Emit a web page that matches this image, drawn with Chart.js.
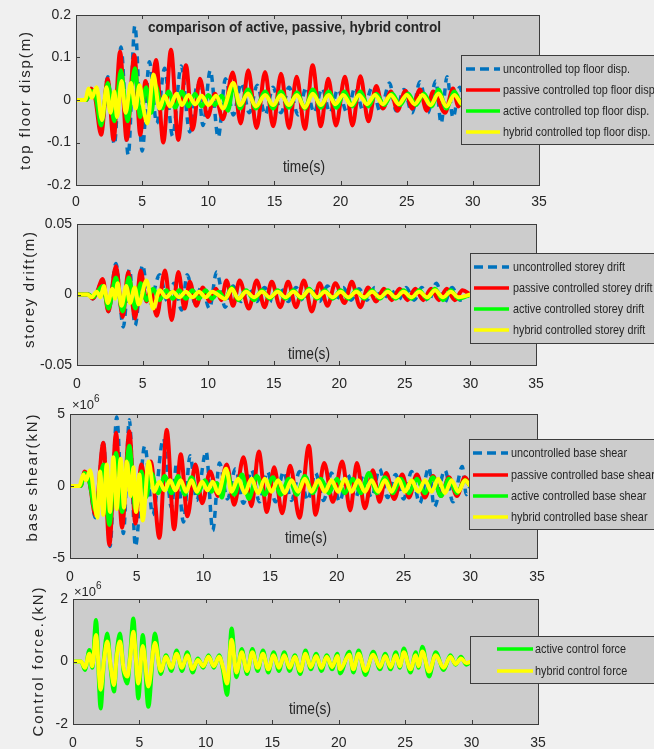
<!DOCTYPE html>
<html>
<head>
<meta charset="utf-8">
<script src="https://cdn.jsdelivr.net/npm/chart.js@4.4.1/dist/chart.umd.min.js"></script>
<style>
  body { margin: 0; background: #f0f0f0; width: 654px; height: 749px; overflow: hidden; position: relative; }
  .panel { position: absolute; left: 0; width: 654px; }
</style>
</head>
<body>
<div class="panel" style="top:0px;height:215px"><canvas id="c1" width="654" height="215"></canvas></div>
<div class="panel" style="top:205px;height:195px"><canvas id="c2" width="654" height="195"></canvas></div>
<div class="panel" style="top:390px;height:200px"><canvas id="c3" width="654" height="200"></canvas></div>
<div class="panel" style="top:575px;height:174px"><canvas id="c4" width="654" height="174"></canvas></div>
<script>
// --- data: [time (s), value] at the visible peaks / troughs ---

// top floor displacement (m)
const uncontrolledTop = [[0,0],[0.8,0],[1.1,0.025],[1.5,0.002],[1.9,-0.075],[2.4,0.055],[2.9,-0.105],[3.4,0.125],[3.95,-0.13],[4.45,0.175],[5.0,-0.12],[5.55,0.09],[6.1,-0.055],[6.7,0.075],[7.3,-0.085],[7.95,0.08],[8.6,-0.075],[9.2,0.04],[9.6,-0.06],[10.15,0.07],[10.75,-0.088],[11.3,0.05],[11.9,-0.035],[12.5,0.04],[13.1,-0.03],[13.7,0.035],[14.3,-0.035],[14.9,0.03],[15.5,-0.03],[16.1,0.03],[16.8,-0.035],[17.4,0.03],[18.0,-0.03],[18.6,0.028],[19.2,-0.03],[19.8,0.025],[20.5,-0.03],[21.1,0.03],[21.7,-0.025],[22.4,0.03],[23.0,-0.028],[23.7,0.04],[24.2,-0.025],[24.8,0.025],[25.4,-0.03],[26.0,0.043],[26.6,-0.03],[27.2,0.045],[27.6,-0.055],[28.05,0.055],[28.5,-0.042],[29.0,0.03],[29.5,-0.02],[30,0]];
const passiveTop = [[0,0],[0.8,0],[1.13,0.027],[1.45,0.005],[1.9,-0.082],[2.39,0.05],[2.84,-0.094],[3.33,0.114],[3.83,-0.094],[4.41,0.106],[4.86,-0.082],[5.25,0.045],[5.6,-0.005],[6.05,0.094],[6.6,-0.1],[7.18,0.118],[7.73,-0.094],[8.31,0.082],[8.82,-0.07],[9.37,0.05],[9.95,-0.04],[10.5,0.015],[11.1,-0.045],[11.85,0.065],[12.45,-0.055],[13.02,0.07],[13.65,-0.066],[14.29,0.066],[14.9,-0.062],[15.5,0.062],[16.1,-0.066],[16.68,0.055],[17.3,-0.068],[17.89,0.082],[18.5,-0.062],[19.07,0.05],[19.65,-0.06],[20.33,0.055],[20.9,-0.06],[21.5,0.056],[22.1,-0.05],[22.7,0.033],[23.2,-0.02],[23.8,0.02],[24.3,-0.025],[24.9,0.022],[25.4,-0.02],[26.0,0.025],[26.5,-0.025],[27.0,0.02],[27.9,-0.03],[28.5,0.027],[28.9,-0.015],[29.4,0.01],[30,0]];
const activeTop = [[0,0],[0.8,0],[1.1,0.022],[1.5,0.005],[1.9,-0.06],[2.4,0.04],[2.9,-0.05],[3.4,0.07],[3.9,-0.05],[4.45,0.075],[4.85,-0.04],[5.3,0.03],[5.7,-0.03],[6.0,0.035],[6.5,-0.02],[7.0,0.02],[7.5,-0.018],[8.0,0.02],[8.5,-0.015],[9.0,0.015],[9.5,-0.015],[10.0,0.012],[10.5,-0.012],[11.0,0.01],[11.5,-0.025],[11.9,0.035],[12.4,-0.02],[13.0,0.025],[13.6,-0.02],[14.3,0.02],[14.9,-0.02],[15.5,0.02],[16.1,-0.018],[16.7,0.018],[17.3,-0.02],[17.9,0.025],[18.5,-0.018],[19.1,0.02],[19.7,-0.018],[20.3,0.02],[20.9,-0.015],[21.5,0.02],[22.1,-0.015],[22.7,0.015],[23.3,-0.012],[23.9,0.015],[24.5,-0.012],[25.1,0.015],[25.7,-0.012],[26.3,0.015],[26.9,-0.015],[27.4,0.025],[28.0,-0.02],[28.6,0.02],[29.2,-0.012],[30,0]];
const hybridTop = [[0,0],[0.7,0],[0.95,0.027],[1.2,0.005],[1.55,0.03],[1.97,-0.047],[2.3,0.03],[2.6,-0.03],[2.9,0.02],[3.1,-0.04],[3.45,0.045],[3.75,-0.03],[4.15,0.04],[4.5,-0.02],[4.8,0.035],[5.1,-0.02],[5.4,-0.055],[5.85,0.06],[6.3,-0.02],[6.7,0.01],[7.1,-0.015],[7.6,0.015],[8.0,-0.012],[8.5,0.012],[9.0,-0.01],[9.5,0.01],[10.0,-0.012],[10.6,0.01],[11.1,-0.02],[11.9,0.04],[12.4,-0.012],[13.0,0.015],[13.6,-0.015],[14.3,0.012],[14.9,-0.012],[15.5,0.012],[16.1,-0.012],[16.7,0.012],[17.3,-0.018],[17.9,0.015],[18.5,-0.012],[19.1,0.012],[19.6,-0.01],[20.2,0.012],[20.8,-0.012],[21.4,0.012],[22.0,-0.01],[22.6,0.012],[23.2,-0.01],[23.8,0.012],[24.4,-0.01],[25.0,0.012],[25.6,-0.01],[26.2,0.012],[26.8,-0.012],[27.4,0.015],[28.0,-0.015],[28.6,0.012],[29.2,-0.01],[30,0]];

// storey drift (m)
const uncontrolledDrift = [[0,0],[0.9,0],[1.2,-0.003],[1.5,0.001],[1.96,0.01],[2.4,-0.012],[2.97,0.022],[3.53,-0.023],[4.0,0.018],[4.43,-0.022],[5.0,0.021],[5.5,-0.008],[6.3,0.014],[6.9,-0.005],[7.4,0.008],[7.98,-0.011],[8.4,0.014],[9.0,-0.006],[9.5,0.006],[10.1,-0.01],[10.65,0.016],[11.3,-0.009],[11.9,0.006],[12.5,-0.005],[13.1,0.005],[13.7,-0.005],[14.3,0.005],[14.9,-0.005],[15.5,0.005],[16.1,-0.005],[16.7,0.005],[17.3,-0.005],[17.9,0.004],[18.5,-0.005],[19.1,0.006],[19.7,-0.005],[20.3,0.005],[20.9,-0.004],[21.5,0.004],[22.1,-0.004],[22.7,0.005],[23.3,-0.004],[23.9,0.004],[24.5,-0.004],[25.1,0.005],[25.7,-0.004],[26.3,0.005],[26.8,-0.005],[27.4,0.008],[28.0,-0.006],[28.6,0.005],[29.2,-0.004],[30,0]];
const passiveDrift = [[0,0],[0.9,0],[1.2,-0.003],[1.5,0.001],[1.96,0.011],[2.39,-0.012],[2.97,0.02],[3.48,-0.016],[3.91,0.016],[4.43,-0.017],[4.85,0.017],[5.3,-0.005],[5.6,0.003],[6.08,-0.015],[6.71,0.017],[7.22,-0.018],[7.73,0.016],[8.2,-0.01],[8.6,0.009],[9.1,-0.008],[9.6,0.005],[10.1,-0.005],[10.6,0.004],[11.0,-0.004],[11.4,0.01],[11.9,-0.008],[12.4,0.01],[13.1,-0.01],[13.7,0.01],[14.3,-0.009],[14.85,0.009],[15.5,-0.009],[16.1,0.009],[16.7,-0.009],[17.3,0.01],[17.9,-0.012],[18.5,0.008],[19.1,-0.008],[19.7,0.008],[20.4,-0.006],[20.95,0.009],[21.6,-0.009],[22.2,0.005],[22.8,-0.005],[23.4,0.004],[24.0,-0.004],[24.6,0.004],[25.2,-0.004],[25.8,0.004],[26.4,-0.004],[27.0,0.004],[27.6,-0.004],[28.2,0.004],[28.8,-0.004],[29.4,0.003],[30,0]];
const activeDrift = [[0,0],[0.9,0],[1.2,-0.002],[1.5,0.001],[1.96,0.006],[2.4,-0.01],[2.97,0.012],[3.48,-0.012],[3.95,0.012],[4.45,-0.01],[4.85,0.008],[5.3,-0.004],[5.8,0.004],[6.3,-0.004],[6.8,0.003],[7.3,-0.003],[7.8,0.003],[8.3,-0.003],[8.8,0.003],[9.3,-0.003],[9.8,0.003],[10.3,-0.003],[10.8,0.002],[11.3,-0.003],[11.8,0.005],[12.3,-0.004],[12.9,0.003],[13.5,-0.004],[14.1,0.003],[14.7,-0.003],[15.3,0.003],[15.9,-0.003],[16.5,0.003],[17.1,-0.003],[17.7,0.004],[18.3,-0.003],[18.9,0.003],[19.5,-0.003],[20.1,0.003],[20.7,-0.003],[21.3,0.003],[21.9,-0.003],[22.5,0.003],[23.1,-0.003],[23.7,0.003],[24.3,-0.003],[24.9,0.003],[25.5,-0.003],[26.1,0.003],[26.7,-0.003],[27.3,0.004],[27.9,-0.004],[28.5,0.003],[29.1,-0.003],[30,0]];
const hybridDrift = [[0,0],[0.8,0],[1.1,-0.002],[1.5,0.002],[1.8,-0.002],[2.05,0.006],[2.35,-0.006],[2.7,0.004],[2.9,-0.003],[3.1,0.008],[3.4,-0.008],[3.75,0.006],[4.05,-0.006],[4.4,0.005],[4.7,-0.007],[5.3,0.01],[5.8,-0.01],[6.3,0.003],[6.8,-0.002],[7.3,0.002],[7.8,-0.002],[8.3,0.002],[8.8,-0.002],[9.3,0.002],[9.8,-0.002],[10.3,0.002],[11.3,-0.003],[11.8,0.004],[12.3,-0.003],[12.9,0.002],[13.5,-0.002],[14.1,0.002],[14.7,-0.002],[15.3,0.002],[15.9,-0.002],[16.5,0.002],[17.1,-0.002],[17.7,0.003],[18.3,-0.002],[18.9,0.002],[19.5,-0.002],[20.1,0.002],[20.7,-0.002],[21.3,0.002],[21.9,-0.002],[22.5,0.002],[23.1,-0.002],[23.7,0.002],[24.3,-0.002],[24.9,0.002],[25.5,-0.002],[26.1,0.002],[26.7,-0.002],[27.3,0.003],[27.9,-0.002],[28.5,0.002],[29.1,-0.002],[30,0]];

// base shear (x 10^6 kN)
const uncontrolledShear = [[0,0],[0.8,0],[1.1,0.9],[1.45,0.3],[1.9,-2.2],[2.5,3.0],[3.0,-4.2],[3.5,4.8],[4.0,-3.3],[4.45,4.6],[4.9,-4.2],[5.6,2.8],[6.2,-2.0],[7.0,3.3],[7.6,-1.5],[8.0,1.6],[8.5,-2.5],[9.0,2.1],[9.5,-1.0],[10.2,2.4],[10.7,-3.1],[11.2,1.6],[11.8,-0.9],[12.4,1.2],[13.0,-1.2],[13.6,1.1],[14.2,-1.1],[14.8,1.0],[15.4,-1.1],[16.0,1.0],[16.6,-1.0],[17.2,1.0],[17.8,-1.0],[18.4,0.9],[19.0,-1.0],[19.6,0.9],[20.2,-1.1],[20.8,0.8],[21.4,-0.8],[22.0,0.8],[22.6,-0.8],[23.2,1.2],[23.8,-0.8],[24.4,0.8],[25.0,-0.9],[25.6,1.0],[26.2,-1.2],[26.9,1.3],[27.3,-1.45],[28.1,1.1],[28.7,-1.1],[29.4,1.35],[29.7,-0.6],[30,0]];
const passiveShear = [[0,0],[0.8,0],[1.1,1.0],[1.45,0.3],[1.9,-2.0],[2.5,3.0],[2.95,-4.1],[3.45,3.7],[3.9,-2.9],[4.45,3.8],[4.9,-2.6],[5.35,1.5],[5.65,0.2],[6.05,1.7],[6.7,-3.6],[7.25,3.9],[7.8,-3.0],[8.3,2.2],[8.8,-2.1],[9.4,1.5],[9.9,-1.2],[10.5,1.0],[11.1,-0.7],[11.75,1.5],[12.3,-1.3],[13.0,2.0],[13.6,-1.4],[14.15,2.4],[14.75,-1.8],[15.3,1.3],[15.9,-1.9],[16.5,1.4],[17.2,-2.2],[17.9,2.8],[18.4,-2.0],[19.05,1.6],[19.7,-1.1],[20.4,1.7],[21.0,-1.7],[21.5,1.6],[22.1,-1.55],[22.7,1.1],[23.2,-1.1],[23.7,0.9],[24.3,-0.9],[24.9,0.8],[25.4,-0.8],[26.0,0.8],[26.6,-0.8],[27.2,0.7],[27.8,-0.7],[28.4,0.6],[29.0,-0.7],[29.6,0.6],[30,0]];
const activeShear = [[0,0],[0.8,0],[1.1,0.9],[1.45,0.3],[1.9,-1.7],[2.5,1.5],[2.95,-2.7],[3.45,2.3],[3.9,-1.8],[4.45,2.8],[4.9,-1.6],[5.35,1.0],[5.7,-0.8],[6.1,0.9],[6.6,-0.5],[7.1,0.7],[7.6,-0.5],[8.1,0.7],[8.6,-0.6],[9.1,0.6],[9.6,-0.5],[10.1,0.4],[10.6,-0.4],[11.0,0.2],[11.4,-0.8],[11.75,1.0],[12.3,-0.6],[12.9,0.8],[13.4,-0.9],[14.0,0.7],[14.6,-0.6],[15.2,0.6],[15.8,-0.6],[16.4,0.5],[17.0,-0.6],[17.6,0.7],[18.2,-0.5],[18.8,0.5],[19.4,-0.5],[20.0,0.5],[20.6,-0.5],[21.2,0.5],[21.8,-0.5],[22.4,0.9],[23.0,-0.5],[23.6,0.6],[24.2,-0.5],[24.8,0.5],[25.4,-0.5],[26.0,0.5],[26.6,-0.5],[27.2,0.6],[27.8,-0.7],[28.4,0.5],[29.0,-0.5],[29.6,0.4],[30,0]];
const hybridShear = [[0,0],[0.7,0],[1.0,0.8],[1.2,0.4],[1.5,1.1],[2.05,-2.2],[2.25,1.0],[2.5,-2.0],[2.75,1.5],[3.0,-1.8],[3.25,2.0],[3.5,-1.6],[3.8,1.9],[4.05,-1.5],[4.25,1.7],[4.55,-0.7],[4.75,1.3],[4.95,-1.8],[5.2,0.8],[5.45,-2.4],[5.9,1.7],[6.3,-0.4],[6.7,0.3],[7.1,-0.3],[7.5,0.4],[7.9,-0.3],[8.3,0.4],[8.7,-0.4],[9.1,0.4],[9.5,-0.4],[9.9,0.3],[10.3,-0.3],[10.7,0.3],[11.1,-0.5],[11.7,1.2],[12.1,-0.4],[12.6,0.5],[13.1,-0.5],[13.6,0.5],[14.1,-0.5],[14.6,0.5],[15.1,-0.4],[15.6,0.4],[16.1,-0.5],[16.6,0.4],[17.1,-0.4],[17.6,0.5],[18.1,-0.4],[18.6,0.4],[19.1,-0.4],[19.6,0.4],[20.1,-0.4],[20.6,0.5],[21.1,-0.4],[21.6,0.4],[22.1,-0.4],[22.6,0.4],[23.1,-0.4],[23.6,0.4],[24.1,-0.4],[24.6,0.5],[25.1,-0.4],[25.6,0.4],[26.1,-0.4],[26.6,0.4],[27.1,-0.4],[27.6,0.5],[28.1,-0.5],[28.6,0.4],[29.1,-0.4],[29.6,0.4],[30,0]];

// control force (x 10^6 kN)
const activeForce = [[0,0],[0.6,0],[0.9,-0.27],[1.23,0.37],[1.45,-0.2],[1.73,1.33],[2.08,-1.5],[2.35,0.2],[2.58,0.9],[2.85,-0.3],[3.09,-0.96],[3.3,0.3],[3.54,0.9],[3.8,-0.3],[4.09,-0.7],[4.3,0.2],[4.54,1.38],[4.92,-1.18],[5.25,0.85],[5.67,-1.45],[6.17,0.9],[6.6,-0.4],[7.0,0.2],[7.4,-0.3],[7.8,0.35],[8.2,-0.3],[8.6,0.3],[9.0,-0.35],[9.4,0.1],[9.8,-0.2],[10.2,0.2],[10.6,-0.2],[11.0,0.2],[11.3,-0.3],[11.6,-1.07],[11.94,1.06],[12.3,-0.5],[12.7,0.4],[13.1,-0.4],[13.5,0.4],[13.9,-0.3],[14.3,0.35],[14.7,-0.35],[15.1,0.3],[15.5,-0.3],[15.9,0.3],[16.3,-0.3],[16.7,0.2],[17.1,-0.4],[17.5,0.35],[17.9,-0.25],[18.3,0.25],[18.7,-0.3],[19.1,0.2],[19.5,-0.25],[19.9,0.25],[20.1,-0.38],[20.8,0.31],[21.1,-0.35],[21.5,0.35],[22.0,-0.43],[22.6,0.31],[23.1,-0.25],[23.5,0.25],[23.9,-0.25],[24.3,0.3],[24.6,-0.2],[24.9,0.42],[25.4,-0.35],[25.8,0.3],[26.0,-0.2],[26.3,0.47],[26.8,-0.48],[27.3,0.3],[27.9,-0.27],[28.4,0.2],[28.8,-0.1],[29.2,0.15],[29.6,-0.1],[30,0]];
const hybridForce = [[0,0],[0.6,0],[0.9,-0.2],[1.23,0.25],[1.45,-0.15],[1.73,0.85],[2.08,-0.9],[2.35,0.1],[2.58,0.64],[2.85,-0.2],[3.09,-0.75],[3.3,0.2],[3.54,0.64],[3.8,-0.2],[4.09,-0.48],[4.3,0.1],[4.54,0.95],[4.92,-0.7],[5.25,0.5],[5.67,-0.8],[6.17,0.6],[6.6,-0.3],[7.0,0.15],[7.4,-0.2],[7.8,0.25],[8.2,-0.2],[8.6,0.2],[9.0,-0.25],[9.4,0.05],[9.8,-0.15],[10.2,0.15],[10.6,-0.15],[11.0,0.15],[11.3,-0.2],[11.6,-0.7],[11.94,0.7],[12.3,-0.35],[12.7,0.3],[13.1,-0.3],[13.5,0.3],[13.9,-0.2],[14.3,0.25],[14.7,-0.25],[15.1,0.2],[15.5,-0.2],[15.9,0.2],[16.3,-0.2],[16.7,0.15],[17.1,-0.3],[17.5,0.25],[17.9,-0.18],[18.3,0.18],[18.7,-0.2],[19.1,0.15],[19.5,-0.18],[19.9,0.18],[20.1,-0.25],[20.8,0.22],[21.1,-0.25],[21.5,0.25],[22.0,-0.3],[22.6,0.22],[23.1,-0.18],[23.5,0.18],[23.9,-0.18],[24.3,0.2],[24.6,-0.15],[24.9,0.3],[25.4,-0.25],[25.8,0.2],[26.0,-0.15],[26.3,0.32],[26.8,-0.32],[27.3,0.2],[27.9,-0.2],[28.4,0.15],[28.8,-0.08],[29.2,0.1],[29.6,-0.05],[30,0]];

const legendTop = ['uncontrolled top floor disp.', 'passive controlled top floor disp.', 'active controlled top floor disp.', 'hybrid controlled top floor disp.'];
const legendDrift = ['uncontrolled storey drift', 'passive controlled storey drift', 'active controlled storey drift', 'hybrid controlled storey drift'];
const legendShear = ['uncontrolled base shear', 'passive controlled base shear', 'active controlled base shear', 'hybrid controlled base shear'];
const legendForce = ['active control force', 'hybrid control force'];

const timeTicks = { min: 0, max: 35, step: 5 };

// --- styling ---
const FONT = '"Liberation Sans", Arial, Helvetica, sans-serif';
const INK = '#262626';
const AXES_BG = '#cccccc';
const FRAME = '#3c3c3c';
const BLUE = '#0072bd', RED = '#ff0000', GREEN = '#00ff00', YELLOW = '#ffff00';

function series(points, color, order, dashed) {
    return {
        data: points.map(([x, y]) => ({ x, y })),
        borderColor: color,
        borderWidth: dashed ? 3.5 : 4,
        borderDash: dashed ? [7, 6] : [],
        pointRadius: 0,
        fill: false,
        cubicInterpolationMode: 'monotone',
        order: order
    };
}

// draws text squeezed/stretched horizontally to a target width
function fitText(ctx, text, cx, cy, font, width, align) {
    ctx.font = font;
    const w = ctx.measureText(text).width;
    const k = width / w;
    ctx.save();
    ctx.translate(cx, cy);
    ctx.scale(k, 1);
    ctx.textAlign = align || 'center';
    ctx.textBaseline = 'middle';
    ctx.fillText(text, 0, 0);
    ctx.restore();
}

// vertical axis title, spread letter by letter to the length seen in the figure
function verticalTitle(ctx, text, cx, cy, font, length) {
    ctx.save();
    ctx.font = font;
    ctx.fillStyle = INK;
    ctx.textBaseline = 'middle';
    ctx.textAlign = 'left';
    const widths = [...text].map(c => ctx.measureText(c).width);
    const natural = widths.reduce((a, b) => a + b, 0);
    const extra = (length - natural) / (text.length - 1);
    ctx.translate(cx, cy);
    ctx.rotate(-Math.PI / 2);
    let x = -length / 2;
    [...text].forEach((c, i) => { ctx.fillText(c, x, 0); x += widths[i] + extra; });
    ctx.restore();
}

function decor(p) {
    return {
        id: 'decor',
        beforeDatasetsDraw(chart) {
            const { ctx, chartArea: a } = chart;
            ctx.save();
            ctx.fillStyle = AXES_BG;
            ctx.fillRect(a.left, a.top, a.width, a.height);
            ctx.restore();
        },
        afterDatasetsDraw(chart) {
            const { ctx, chartArea: a, scales } = chart;
            const off = p.top;
            ctx.save();
            // axes box
            ctx.strokeStyle = FRAME;
            ctx.lineWidth = 1;
            ctx.strokeRect(Math.round(a.left) + 0.5, Math.round(a.top) + 0.5, Math.round(a.width), Math.round(a.height));
            // inward tick marks
            ctx.beginPath();
            scales.x.ticks.forEach(t => {
                const px = Math.round(scales.x.getPixelForValue(t.value)) + 0.5;
                ctx.moveTo(px, a.bottom); ctx.lineTo(px, a.bottom - 4);
                ctx.moveTo(px, a.top); ctx.lineTo(px, a.top + 4);
            });
            scales.y.ticks.forEach(t => {
                const py = Math.round(scales.y.getPixelForValue(t.value)) + 0.5;
                ctx.moveTo(a.left, py); ctx.lineTo(a.left + 4, py);
                ctx.moveTo(a.right, py); ctx.lineTo(a.right - 4, py);
            });
            ctx.stroke();

            ctx.fillStyle = INK;
            // "time(s)" label inside the axes
            fitText(ctx, 'time(s)', p.timeLabel[0], p.timeLabel[1] - off, '16px ' + FONT, 42);
            // y-axis title
            verticalTitle(ctx, p.yTitle, p.yTitlePos[0], p.yTitlePos[1] - off, '15px ' + FONT, p.yTitlePos[2]);
            // title
            if (p.title) {
                fitText(ctx, p.title, p.titlePos[0], p.titlePos[1] - off, 'bold 14px ' + FONT, p.titlePos[2]);
            }
            // exponent
            if (p.exponent) {
                const [ex, ey] = p.exponent;
                ctx.font = '13px ' + FONT;
                ctx.textAlign = 'left';
                ctx.textBaseline = 'middle';
                ctx.fillText('\u00d710', ex, ey - off);
                ctx.font = '10px ' + FONT;
                ctx.fillText('6', ex + 22, ey - off - 6);
            }
            // legend box
            const L = p.legend;
            ctx.fillStyle = AXES_BG;
            ctx.fillRect(L.x, L.y - off, 660 - L.x, L.h);
            ctx.strokeStyle = FRAME;
            ctx.strokeRect(L.x + 0.5, L.y - off + 0.5, 660 - L.x, L.h);
            ctx.font = '13px ' + FONT;
            const k = L.tw / ctx.measureText(L.labels[0]).width;
            L.labels.forEach((label, i) => {
                const ds = chart.data.datasets[i];
                const y = L.rows[i] - off;
                ctx.save();
                ctx.strokeStyle = ds.borderColor;
                ctx.lineWidth = 3.5;
                ctx.setLineDash(ds.borderDash.length ? [9, 5] : []);
                ctx.beginPath();
                ctx.moveTo(L.x0, y); ctx.lineTo(L.x1, y);
                ctx.stroke();
                ctx.restore();
                ctx.save();
                ctx.fillStyle = INK;
                ctx.translate(L.tx, y);
                ctx.scale(k, 1);
                ctx.textAlign = 'left';
                ctx.textBaseline = 'middle';
                ctx.font = '13px ' + FONT;
                ctx.fillText(label, 0, 0);
                ctx.restore();
            });
            ctx.restore();
        }
    };
}

function makeChart(id, p) {
    return new Chart(document.getElementById(id), {
        type: 'line',
        data: { datasets: p.datasets },
        options: {
            responsive: false,
            animation: false,
            devicePixelRatio: 1,
            layout: { padding: { top: p.padTop, right: 654 - p.right, left: 0, bottom: 0 } },
            plugins: { legend: { display: false }, tooltip: { enabled: false } },
            scales: {
                x: {
                    type: 'linear',
                    min: timeTicks.min,
                    max: timeTicks.max,
                    ticks: { stepSize: timeTicks.step, autoSkip: false, maxRotation: 0, padding: p.xPad, color: INK, font: { family: FONT, size: 14 } },
                    grid: { display: false, drawTicks: false },
                    border: { display: false },
                    afterFit(s) { s.height = p.xAxisH; }
                },
                y: {
                    type: 'linear',
                    min: p.ymin,
                    max: p.ymax,
                    ticks: { stepSize: p.ystep, padding: 5, color: INK, font: { family: FONT, size: 14 }, callback: v => String(+v.toFixed(4)) },
                    grid: { display: false, drawTicks: false },
                    border: { display: false },
                    afterFit(s) { s.width = p.left; }
                }
            }
        },
        plugins: [decor(p)]
    });
}

makeChart('c1', {
    top: 0, padTop: 15, xAxisH: 30, xPad: 9, left: 76, right: 539,
    ymin: -0.2, ymax: 0.2, ystep: 0.1,
    datasets: [
        series(uncontrolledTop, BLUE, 3, true),
        series(passiveTop, RED, 2),
        series(activeTop, GREEN, 1),
        series(hybridTop, YELLOW, 0)
    ],
    title: 'comparison of active, passive, hybrid control', titlePos: [294.5, 28, 293],
    timeLabel: [304, 168],
    yTitle: 'top floor disp(m)', yTitlePos: [26, 101, 138],
    legend: { x: 461, y: 55, h: 89, rows: [69, 90, 111, 132], x0: 466, x1: 500, tx: 503, tw: 127, labels: legendTop }
});

makeChart('c2', {
    top: 205, padTop: 19, xAxisH: 35, xPad: 11, left: 77, right: 536,
    ymin: -0.05, ymax: 0.05, ystep: 0.05,
    datasets: [
        series(uncontrolledDrift, BLUE, 3, true),
        series(passiveDrift, RED, 2),
        series(activeDrift, GREEN, 1),
        series(hybridDrift, YELLOW, 0)
    ],
    timeLabel: [309, 355],
    yTitle: 'storey drift(m)', yTitlePos: [30, 290, 116],
    legend: { x: 470, y: 253, h: 90, rows: [267, 288, 309, 330], x0: 474, x1: 509, tx: 513, tw: 112, labels: legendDrift }
});

makeChart('c3', {
    top: 390, padTop: 24, xAxisH: 32, xPad: 11, left: 70, right: 537,
    ymin: -5, ymax: 5, ystep: 5,
    datasets: [
        series(uncontrolledShear, BLUE, 3, true),
        series(passiveShear, RED, 2),
        series(activeShear, GREEN, 1),
        series(hybridShear, YELLOW, 0)
    ],
    timeLabel: [306, 539],
    exponent: [72, 405],
    yTitle: 'base shear(kN)', yTitlePos: [33, 478, 127],
    legend: { x: 469, y: 439, h: 90, rows: [453, 475, 496, 517], x0: 473, x1: 508, tx: 511, tw: 116, labels: legendShear }
});

makeChart('c4', {
    top: 575, padTop: 24, xAxisH: 25, xPad: 11, left: 73, right: 538,
    ymin: -2, ymax: 2, ystep: 2,
    datasets: [
        series(activeForce, GREEN, 1),
        series(hybridForce, YELLOW, 0)
    ],
    timeLabel: [310, 710],
    exponent: [74, 592],
    yTitle: 'Control force.(kN)', yTitlePos: [39, 662, 149],
    legend: { x: 470, y: 636, h: 47, rows: [649, 671], x0: 497, x1: 533, tx: 535, tw: 91, labels: legendForce }
});
</script>
</body>
</html>
